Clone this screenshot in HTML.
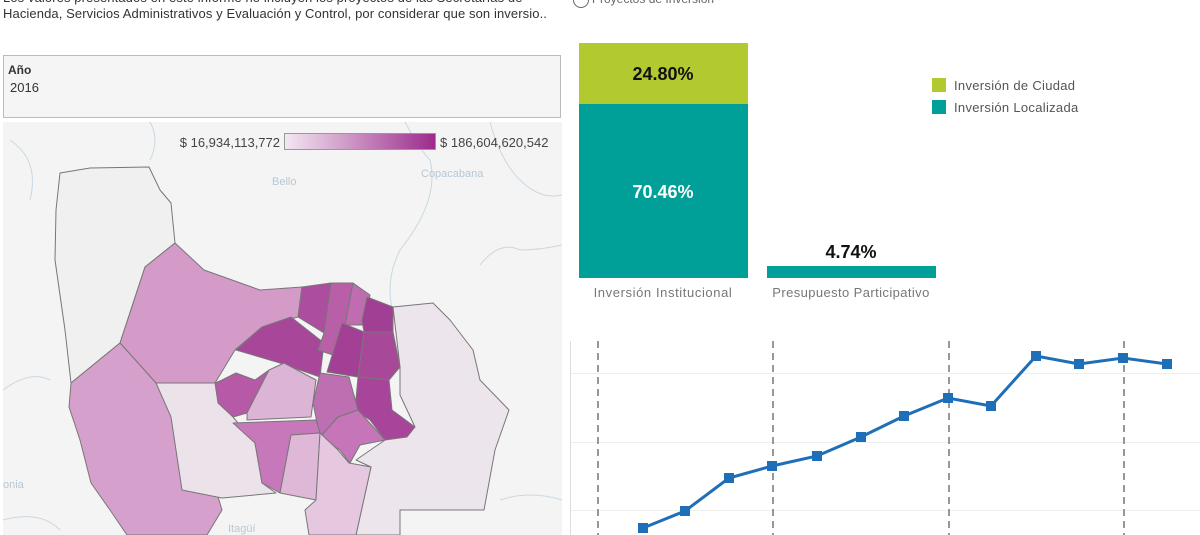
<!DOCTYPE html>
<html><head><meta charset="utf-8"><style>
html,body{margin:0;padding:0;background:#fff;width:1200px;height:535px;overflow:hidden;font-family:"Liberation Sans",sans-serif;}
.t{position:absolute;white-space:nowrap;}
</style></head><body>
<div class="t" style="left:3px;top:-10px;font-size:13px;letter-spacing:0.1px;color:#333;line-height:16px;">Los valores presentados en este informe no incluyen los proyectos de las Secretarías de<br>Hacienda, Servicios Administrativos y Evaluación y Control, por considerar que son inversio..</div>
<div style="position:absolute;left:573px;top:-8px;width:14px;height:14px;border:1px solid #666;border-radius:50%;"></div>
<div class="t" style="left:592px;top:-8px;font-size:12px;color:#666;">Proyectos de Inversión</div>

<div style="position:absolute;left:3px;top:55px;width:556px;height:61px;background:#f5f5f5;border:1px solid #bbb;"></div>
<div class="t" style="left:8px;top:63px;font-size:12px;font-weight:bold;color:#333;">Año</div>
<div class="t" style="left:10px;top:80px;font-size:13px;color:#333;">2016</div>

<svg style="position:absolute;left:0;top:0" width="1200" height="535">
<rect x="3" y="122" width="559" height="413" fill="#f4f4f4"/>
<g fill="none" stroke="#c9d8e2" stroke-width="1">
<path d="M10,140 Q40,160 30,200 M150,122 Q160,140 150,160 M405,122 Q420,150 430,160 Q440,200 400,250 Q380,290 400,330 M490,122 Q500,160 520,180 Q540,200 562,195 M3,390 Q30,370 50,380 M480,265 Q500,240 520,250 Q540,250 562,245 M500,500 Q530,490 562,500 M3,520 Q40,510 60,530"/>
</g>
<text x="272" y="185" font-size="11" fill="#b8c8d4">Bello</text>
<text x="421" y="177" font-size="11" fill="#b8c8d4">Copacabana</text>
<text x="228" y="532" font-size="11" fill="#b8c8d4">Itagüí</text>
<text x="3" y="488" font-size="11" fill="#b8c8d4">onia</text>
<g stroke="#777" stroke-width="1" stroke-linejoin="round">
<polygon fill="#f0f0f0" points="60,173 90,168 149,167 160,190 171,203 175,243 145,267 120,343 71,383 65,330 55,260 56,210"/>
<polygon fill="#d49ac8" points="175,243 145,267 120,343 156,383 215,383 235,350 262,327 298,317 302,287 260,290 204,270"/>
<polygon fill="#d6a0cc" points="120,343 71,383 69,407 80,440 91,483 110,510 127,535 207,535 222,510 210,470 185,430 156,383"/>
<polygon fill="#ece3ea" points="156,383 215,383 233,417 255,443 262,483 276,493 222,498 182,490 171,417"/>
<polygon fill="#ede5ec" points="393,307 433,303 450,320 473,350 480,380 509,410 495,450 484,510 400,510 400,535 356,535 371,467 356,460 385,440 415,427 400,395 400,367"/>
<polygon fill="#a8479a" points="236,350 262,327 291,317 324,343 320,377 280,363"/>
<polygon fill="#ad4d9f" points="302,287 331,283 324,333 298,317"/>
<polygon fill="#b85fa8" points="331,283 353,283 345,325 333,355 318,350 324,333"/>
<polygon fill="#c06cb0" points="353,283 370,295 365,325 345,325"/>
<polygon fill="#a03f93" points="367,297 393,307 393,332 364,332 362,320"/>
<polygon fill="#a33f95" points="342,323 364,332 358,377 327,372"/>
<polygon fill="#a84899" points="364,332 393,332 400,367 389,380 358,377"/>
<polygon fill="#a8459a" points="358,377 389,380 392,410 415,427 407,437 385,440 370,420 355,410"/>
<polygon fill="#bd6fb1" points="320,373 349,377 358,410 338,417 320,437 313,403"/>
<polygon fill="#c575b8" points="338,417 358,410 385,440 360,445 350,463 340,450 320,437"/>
<polygon fill="#b65aa7" points="215,383 222,380 236,373 255,380 269,370 247,413 233,417 218,403"/>
<polygon fill="#dcb4d6" points="247,413 269,370 284,363 316,380 311,417 247,420"/>
<polygon fill="#c678ba" points="233,423 316,420 320,433 291,435 280,493 262,483 255,443"/>
<polygon fill="#dfb8d8" points="291,435 320,433 316,500 280,493"/>
<polygon fill="#e6c7e0" points="320,433 338,450 349,463 371,467 356,535 309,535 305,510 316,500"/>
</g>
<defs><linearGradient id="g" x1="0" x2="1"><stop offset="0" stop-color="#f3e8f1"/><stop offset="1" stop-color="#9c2a8c"/></linearGradient></defs>
<rect x="284.5" y="133.5" width="151" height="16" fill="url(#g)" stroke="#999"/>
<text x="280" y="147" font-size="13" fill="#444" text-anchor="end">$ 16,934,113,772</text>
<text x="440" y="147" font-size="13" fill="#444">$ 186,604,620,542</text>

<rect x="579" y="43" width="169" height="61" fill="#b3c930"/>
<rect x="579" y="104" width="169" height="174" fill="#00a098"/>
<rect x="767" y="266" width="169" height="12" fill="#00a098"/>
<text x="663" y="80" font-size="18" font-weight="bold" fill="#111" text-anchor="middle">24.80%</text>
<text x="663" y="198" font-size="18" font-weight="bold" fill="#fff" text-anchor="middle">70.46%</text>
<text x="851" y="258" font-size="18" font-weight="bold" fill="#111" text-anchor="middle">4.74%</text>
<text x="663" y="297" font-size="13" letter-spacing="0.6" fill="#777" text-anchor="middle">Inversión Institucional</text>
<text x="851" y="297" font-size="13" letter-spacing="0.4" fill="#777" text-anchor="middle">Presupuesto Participativo</text>
<rect x="932" y="78" width="14" height="14" fill="#b3c930"/>
<rect x="932" y="100" width="14" height="14" fill="#00a098"/>
<text x="954" y="90" font-size="13" letter-spacing="0.3" fill="#555">Inversión de Ciudad</text>
<text x="954" y="112" font-size="13" letter-spacing="0.3" fill="#555">Inversión Localizada</text>

<line x1="570.5" y1="341" x2="570.5" y2="535" stroke="#ddd"/>
<g stroke="#eee"><line x1="571" y1="373.5" x2="1200" y2="373.5"/><line x1="571" y1="442.5" x2="1200" y2="442.5"/><line x1="571" y1="510.5" x2="1200" y2="510.5"/></g>
<g stroke="#777" stroke-width="1.5" stroke-dasharray="7,5"><line x1="598" y1="341" x2="598" y2="535"/><line x1="773" y1="341" x2="773" y2="535"/><line x1="949" y1="341" x2="949" y2="535"/><line x1="1124" y1="341" x2="1124" y2="535"/></g>
<polyline fill="none" stroke="#1f6fb8" stroke-width="3" points="643,528 685,511 729,478 772,466 817,456 861,437 904,416 948,398 991,406 1036,356 1079,364 1123,358 1167,364"/>
<g fill="#1f6fb8">
<rect x="638" y="523" width="10" height="10"/><rect x="680" y="506" width="10" height="10"/><rect x="724" y="473" width="10" height="10"/><rect x="767" y="461" width="10" height="10"/><rect x="812" y="451" width="10" height="10"/><rect x="856" y="432" width="10" height="10"/><rect x="899" y="411" width="10" height="10"/><rect x="943" y="393" width="10" height="10"/><rect x="986" y="401" width="10" height="10"/><rect x="1031" y="351" width="10" height="10"/><rect x="1074" y="359" width="10" height="10"/><rect x="1118" y="353" width="10" height="10"/><rect x="1162" y="359" width="10" height="10"/>
</g>
</svg>
</body></html>
